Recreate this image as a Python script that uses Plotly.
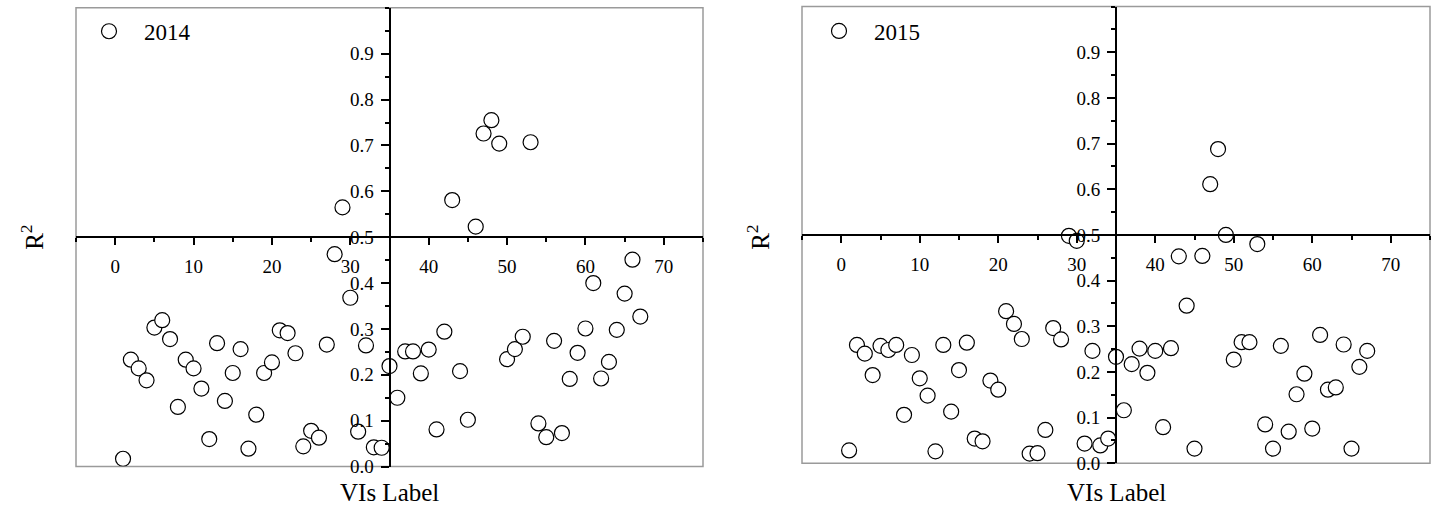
import plotly.graph_objects as go

# VI index labels (1..67) and R^2 values for each year
vi_labels = list(range(1, 68))

r2_2014 = [0.017, 0.233, 0.214, 0.188, 0.303, 0.319, 0.278, 0.130, 0.233, 0.214,
           0.170, 0.060, 0.269, 0.143, 0.204, 0.256, 0.039, 0.113, 0.204, 0.227,
           0.297, 0.291, 0.247, 0.044, 0.078, 0.063, 0.266, 0.463, 0.565, 0.368,
           0.076, 0.264, 0.042, 0.041, 0.219, 0.150, 0.251, 0.251, 0.203, 0.255,
           0.081, 0.294, 0.581, 0.208, 0.102, 0.523, 0.726, 0.755, 0.704, 0.234,
           0.256, 0.283, 0.707, 0.094, 0.064, 0.274, 0.073, 0.191, 0.248, 0.301,
           0.400, 0.192, 0.228, 0.298, 0.377, 0.451, 0.327]

r2_2015 = [0.028, 0.259, 0.240, 0.193, 0.257, 0.248, 0.259, 0.106, 0.237, 0.186,
           0.148, 0.026, 0.259, 0.113, 0.204, 0.264, 0.054, 0.048, 0.181, 0.161,
           0.333, 0.305, 0.272, 0.021, 0.022, 0.073, 0.296, 0.271, 0.498, 0.487,
           0.043, 0.246, 0.039, 0.054, 0.233, 0.116, 0.217, 0.251, 0.198, 0.246,
           0.079, 0.252, 0.453, 0.345, 0.032, 0.454, 0.611, 0.688, 0.500, 0.227,
           0.265, 0.265, 0.480, 0.085, 0.032, 0.257, 0.069, 0.151, 0.196, 0.076,
           0.281, 0.161, 0.166, 0.260, 0.032, 0.211, 0.246]

x_ticks = [0, 10, 20, 30, 40, 50, 60, 70]
y_ticks = [0.0, 0.1, 0.2, 0.3, 0.4, 0.5, 0.6, 0.7, 0.8, 0.9]

FONT = "Times New Roman, Liberation Serif, DejaVu Serif, serif"
W, H = 1432, 517

# panel boxes in pixels: (left, right, top, bottom)
panels = [(76, 703, 8, 476.7), (802, 1430, 6.7, 473.3)]
X_RANGE = [-5, 75]
Y_RANGE = [0, 1.0]
X_CROSS = 35     # vertical axis drawn at this label value
Y_CROSS = 0.5    # horizontal axis drawn at this R^2 value

fig = go.Figure()
marker = dict(symbol="circle", size=15, color="white",
              line=dict(color="black", width=1.2))

series = [("2014", r2_2014), ("2015", r2_2015)]
for i, (name, vals) in enumerate(series):
    sfx = "" if i == 0 else "2"
    fig.add_trace(go.Scatter(
        x=vi_labels, y=vals, mode="markers", name=name, marker=marker,
        xaxis="x" + sfx, yaxis="y" + sfx, legend="legend" + sfx,
        showlegend=True,
    ))

layout = dict(width=W, height=H, margin=dict(l=0, r=0, t=0, b=0),
              paper_bgcolor="white", plot_bgcolor="white", showlegend=True,
              font=dict(family=FONT, color="black"), shapes=[], annotations=[])

legend_offsets = [(-4, 2), (0, 3)]   # (dx, dy) in px from panel corner

for i, (l, r, t, b) in enumerate(panels):
    sfx = "" if i == 0 else str(i + 1)
    xd = [l / W, r / W]
    yd = [1 - b / H, 1 - t / H]
    xpos = xd[0] + (X_CROSS - X_RANGE[0]) / (X_RANGE[1] - X_RANGE[0]) * (xd[1] - xd[0])
    ypos = yd[0] + (Y_CROSS - Y_RANGE[0]) / (Y_RANGE[1] - Y_RANGE[0]) * (yd[1] - yd[0])
    layout["xaxis" + sfx] = dict(
        domain=xd, range=X_RANGE, anchor="free", position=ypos,
        tickmode="array", tickvals=x_ticks, ticks="outside", ticklen=7,
        tickwidth=2, tickcolor="black", showline=True, linewidth=2,
        linecolor="black", showgrid=False, zeroline=False,
        ticklabelstandoff=5,
        tickfont=dict(family=FONT, size=19, color="black"),
        minor=dict(dtick=5, tick0=0, ticks="outside", ticklen=4,
                   tickwidth=2, tickcolor="black"),
    )
    layout["yaxis" + sfx] = dict(
        domain=yd, range=Y_RANGE, anchor="free", position=xpos,
        tickmode="array", tickvals=y_ticks, tickformat=".1f",
        ticks="outside", ticklen=8, tickwidth=2, tickcolor="black",
        showline=True, linewidth=2, linecolor="black", showgrid=False,
        zeroline=False, ticklabelstandoff=3,
        tickfont=dict(family=FONT, size=19, color="black"),
        minor=dict(dtick=0.05, tick0=0, ticks="outside", ticklen=4,
                   tickwidth=2, tickcolor="black"),
    )
    xref = "x" + sfx
    yref = "y" + sfx
    layout["shapes"].append(dict(
        type="rect", xref=xref + " domain", yref=yref + " domain",
        x0=0, x1=1, y0=0, y1=1, line=dict(color="#9a9a9a", width=1.5),
        layer="below"))
    # axis titles
    layout["annotations"].append(dict(
        text="VIs Label", x=(l + r) / 2 / W, y=1 - 503 / H, xref="paper",
        yref="paper", showarrow=False, xanchor="center", yanchor="middle",
        font=dict(family=FONT, size=25, color="black")))
    layout["annotations"].append(dict(
        text="R<sup>2</sup>", x=(l - 44) / W, y=1 - 243 / H, xref="paper",
        yref="paper", showarrow=False, xanchor="center", yanchor="middle",
        textangle=-90, font=dict(family=FONT, size=25, color="black")))
    dx, dy = legend_offsets[i]
    layout["legend" + sfx] = dict(
        x=(l + 2 + dx) / W, y=1 - (t + dy) / H, xanchor="left", yanchor="top",
        bgcolor="rgba(0,0,0,0)", borderwidth=0, itemwidth=60,
        font=dict(family=FONT, size=23, color="black"), itemsizing="trace",
        visible=True)

fig.update_layout(**layout)
fig.write_html("out.html")
